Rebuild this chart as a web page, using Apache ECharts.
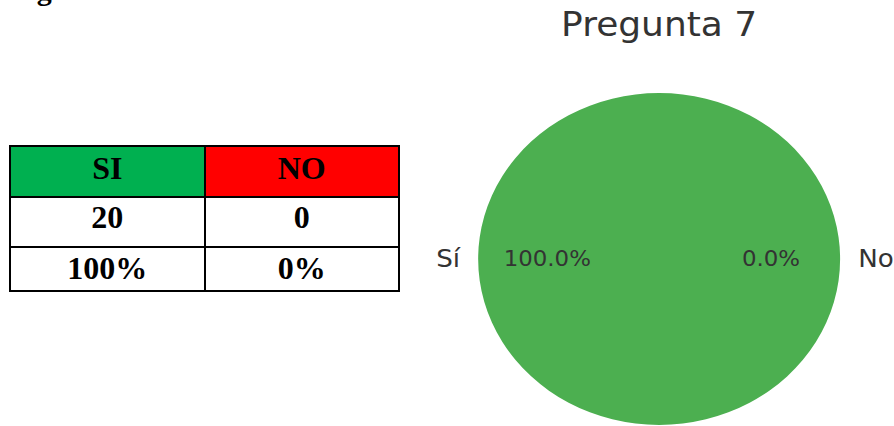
<!DOCTYPE html>
<html>
<head>
<meta charset="utf-8">
<script src="https://cdn.jsdelivr.net/npm/echarts@6/dist/echarts.min.js"></script>
<style>
  html, body { margin:0; padding:0; background:#fff; width:894px; height:426px; overflow:hidden; position:relative; }
  #heading { position:absolute; left:10px; top:-25px; font:bold 30px/30px 'Liberation Serif','Times New Roman',serif; color:#000; white-space:nowrap; }
  #tbl { position:absolute; left:9px; top:145px; width:391px; border-collapse:collapse; table-layout:fixed; }
  #tbl td { border:2px solid #000; padding:0; text-align:center; vertical-align:middle; font:bold 32px/32px 'Liberation Serif','Times New Roman',serif; color:#000; box-sizing:border-box; }
  #chart { position:absolute; left:0; top:0; width:820px; height:426px; transform:scaleX(1.0902); transform-origin:0 0; }
</style>
</head>
<body>
<div id="heading">Figura 7</div>
<table id="tbl"><tbody id="tb"></tbody></table>
<div id="chart"></div>
<script>
// ---- data ----
const tableHeaders = ['SI', 'NO'];
const tableCounts = [20, 0];
const tablePercents = ['100%', '0%'];
const chartTitle = 'Pregunta 7';
const sliceNames = ['Sí', 'No'];
const sliceValues = [20, 0];

// ---- styles ----
const headerColors = ['#00B050', '#FF0000'];
const sliceColors = ['#4CAF50', '#F44336'];
const rowHeights = [51, 50, 44];
const rowPadBottom = [8, 10, 2];

// table
const tb = document.getElementById('tb');
[tableHeaders, tableCounts, tablePercents].forEach((row, r) => {
  const tr = document.createElement('tr');
  tr.style.height = rowHeights[r] + 'px';
  row.forEach((v, c) => {
    const td = document.createElement('td');
    td.textContent = String(v);
    td.style.paddingBottom = rowPadBottom[r] + 'px';
    if (r === 0) td.style.background = headerColors[c];
    tr.appendChild(td);
  });
  tb.appendChild(tr);
});

// chart
const chart = echarts.init(document.getElementById('chart'), null, { renderer: 'svg' });
const cx = 604.6, cy = 259, R = 166;
const data = sliceNames.map((n, i) => ({ name: n, value: sliceValues[i], itemStyle: { color: sliceColors[i] } }));
const font = 'DejaVu Sans';
chart.setOption({
  animation: false,
  title: {
    text: chartTitle, left: cx, top: 8, padding: 0, textAlign: 'center',
    textStyle: { fontFamily: font, fontSize: 33, fontWeight: 'normal', color: '#333' }
  },
  series: [
    {
      type: 'pie', center: [cx, cy], radius: R, startAngle: 0, clockwise: true,
      avoidLabelOverlap: false, silent: true, data: data,
      itemStyle: { borderWidth: 0, borderRadius: 0 },
      label: { show: true, position: 'outside', formatter: '{b}', fontFamily: font, fontSize: 24, color: '#333', distanceToLabelLine: 0.1 * R },
      labelLine: { show: false, length: 0, length2: 0 },
      emphasis: { disabled: true }
    },
    {
      type: 'pie', center: [cx, cy], radius: [0.4 * R, 0.8 * R], startAngle: 0, clockwise: true,
      avoidLabelOverlap: false, silent: true,
      data: sliceNames.map((n, i) => ({ name: n, value: sliceValues[i], itemStyle: { color: 'rgba(0,0,0,0)' } })),
      itemStyle: { borderWidth: 0 },
      label: { show: true, position: 'inside', formatter: p => p.percent.toFixed(1) + '%', fontFamily: font, fontSize: 21, color: '#333' },
      labelLine: { show: false },
      emphasis: { disabled: true }
    }
  ]
});
</script>
</body>
</html>
